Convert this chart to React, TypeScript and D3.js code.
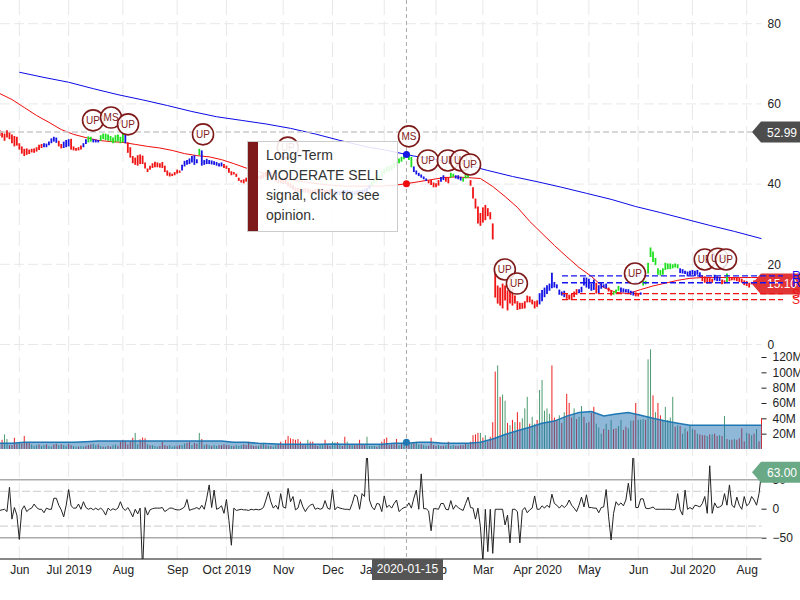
import React, { useEffect, useRef } from 'react'
import * as d3 from 'd3'

// price bars, one pair per trading day
const priceHigh = [
  53.5,53.2,52.6,53.4,53.0,52.4,52.0,51.8,50.2,49.4,
  48.8,48.9,48.6,48.8,48.9,49.2,49.8,50.0,50.2,50.1,
  50.6,51.4,51.8,51.6,50.8,50.0,50.6,51.0,51.2,51.3,
  49.4,49.0,49.2,49.6,50.2,51.2,51.9,51.8,51.2,51.1,
  51.0,52.2,52.6,52.6,52.4,52.0,51.6,52.2,52.4,51.8,
  52.6,52.4,50.4,49.2,47.0,46.6,47.2,47.4,47.1,45.4,
  43.9,44.6,45.2,45.6,45.4,45.2,45.5,44.6,43.4,42.9,
  42.6,43.0,43.6,43.4,44.8,45.8,46.0,46.4,47.0,47.2,
  46.2,48.8,48.4,46.0,46.3,46.0,45.9,45.7,45.5,45.2,
  45.4,45.0,44.6,44.0,43.2,43.0,42.6,41.6,41.0,41.2,
  41.6,41.4,41.2,41.4,41.8,42.0,42.2,42.6,43.0,43.2,
  43.0,42.4,41.8,41.4,41.2,41.0,41.2,40.6,40.2,39.8,
  39.2,39.0,38.8,38.9,39.0,38.9,38.7,38.6,38.8,38.7,
  38.8,38.6,38.5,38.7,38.8,38.6,38.4,38.3,38.2,38.4,
  38.5,38.6,38.4,38.3,38.2,38.4,38.5,38.6,38.8,39.0,
  39.8,40.6,41.4,41.8,42.2,43.2,43.8,44.4,44.6,44.8,
  45.2,45.8,46.4,46.8,47.6,48.2,47.8,46.8,44.4,43.4,
  42.8,42.4,41.9,41.4,41.0,41.0,40.4,40.2,41.0,41.8,
  42.2,41.8,41.6,42.8,42.6,42.2,42.2,41.8,41.6,42.4,
  42.6,41.0,39.2,36.4,34.4,32.8,34.2,34.8,34.0,33.0,
  30.2,17.7,14.7,14.2,15.2,14.7,13.5,15.2,14.0,12.2,
  10.8,10.4,10.4,10.8,12.2,12.0,11.2,10.8,11.0,12.8,
  13.6,14.2,14.8,15.2,17.9,15.6,15.0,13.7,13.2,13.4,
  12.8,12.4,12.6,13.2,13.8,13.8,14.4,16.7,16.7,16.4,
  15.2,16.2,15.4,14.8,15.4,15.0,15.2,14.2,13.4,13.2,
  13.7,14.6,14.2,14.0,13.8,13.8,13.4,13.2,13.0,12.6,
  13.0,15.9,15.9,20.4,24.2,23.2,21.6,19.0,18.6,19.0,
  20.4,20.2,20.2,20.0,20.2,20.0,19.0,18.8,18.4,18.2,
  18.4,18.6,18.4,18.6,18.0,17.2,17.0,16.6,16.6,16.4,
  17.4,17.0,16.8,16.2,16.0,17.7,16.6,16.8,16.8,16.6,
  16.6,16.4,16.0,15.8,15.4,15.6,16.0,15.9,15.6,15.4,
]
const priceLow = [
  52.0,51.6,50.8,51.6,51.2,50.2,49.4,49.6,48.6,47.6,
  47.0,47.3,47.5,47.9,47.8,48.1,48.5,49.0,49.2,49.2,
  49.7,50.2,50.6,50.3,49.4,48.9,49.0,49.2,49.4,48.6,
  48.4,48.3,48.4,48.6,49.2,50.0,50.4,50.6,50.4,50.4,
  50.4,50.8,51.2,51.0,50.8,50.6,50.2,50.4,50.6,50.2,
  50.4,50.2,47.8,46.6,45.2,44.8,44.6,45.0,45.0,43.9,
  43.0,43.6,44.0,44.2,44.2,44.1,44.0,43.0,42.1,41.9,
  42.0,42.2,42.6,42.8,43.4,44.4,44.8,45.0,45.4,44.8,
  45.2,47.2,44.6,44.8,45.0,45.0,44.9,44.8,44.6,44.4,
  44.4,44.0,43.8,42.8,42.2,42.4,41.8,40.8,40.4,40.2,
  40.6,40.4,40.4,40.6,40.9,41.2,41.2,41.4,41.8,42.0,
  41.8,41.2,40.6,40.2,40.2,40.0,40.0,39.4,39.0,38.6,
  38.1,38.0,37.8,37.9,37.9,37.8,37.6,37.6,37.7,37.7,
  37.8,37.6,37.5,37.6,37.7,37.5,37.4,37.3,37.2,37.4,
  37.4,37.5,37.4,37.3,37.3,37.4,37.6,37.7,37.8,38.0,
  38.8,39.4,40.2,40.6,41.0,41.8,42.6,43.0,43.2,43.4,
  44.0,44.6,45.2,45.6,46.2,46.8,46.0,44.2,43.0,42.4,
  42.0,41.6,41.2,40.8,40.2,39.8,39.2,39.2,39.6,40.6,
  41.0,40.6,40.2,41.6,41.8,41.4,41.2,40.9,40.6,41.4,
  41.6,39.6,36.4,33.9,30.2,29.6,30.4,31.0,32.0,31.2,
  26.2,11.7,10.2,9.7,9.0,11.0,8.5,10.2,9.7,10.2,
  8.6,8.8,8.9,9.0,10.5,10.5,10.0,9.0,9.4,10.0,
  10.8,11.8,12.6,13.4,14.0,14.2,14.0,12.4,12.2,11.8,
  11.4,11.2,11.2,11.8,12.4,12.8,13.0,14.7,14.2,13.9,
  13.4,13.6,12.7,12.8,13.9,14.2,14.0,13.2,12.2,12.4,
  12.7,13.4,13.0,13.0,13.0,12.6,12.4,12.2,12.0,12.0,
  12.4,14.7,15.0,17.7,21.8,20.6,19.8,17.4,17.2,17.4,
  18.6,18.8,18.8,19.0,19.2,19.0,17.8,17.7,17.6,17.0,
  17.2,17.4,17.0,17.4,16.8,15.8,15.4,15.2,15.2,15.4,
  16.0,15.8,15.8,15.0,15.2,15.4,15.8,16.0,16.0,15.8,
  15.6,15.4,14.8,14.6,14.2,15.0,15.2,15.2,15.0,15.1,
]
// colour of the price bars: each colour runs up to and including the bar in signalEnds
const signalEnds = [17,23,25,28,33,35,37,40,50,51,73,80,81,90,135,150,167,173,178,180,182,184,187,190,218,229,234,241,242,246,248,251,257,259,260,275,284,289,292,294,295,309]
const signalColors = ['r','b','r','b','r','b','g','b','g','b','r','b','g','b','r','b','g','b','r','b','r','g','b','g','r','b','r','b','r','b','r','g','b','r','b','g','b','r','b','r','g','r']

// moving averages, read every few bars
const fastBars = d3.range(0, 305, 5).concat([305, 309])
const fastMA = [
  62.6,61.1,59.1,57.1,55.4,53.6,52.4,51.6,50.9,50.6,50.4,49.9,49.4,49.0,48.4,47.6,47.1,46.8,46.1,45.1,
  44.0,43.1,42.1,41.4,40.9,40.4,40.0,39.7,39.5,39.5,39.5,39.5,39.7,40.1,40.6,41.1,41.6,41.8,41.6,41.4,
  39.4,36.9,34.2,30.7,27.7,24.7,21.9,19.2,17.0,14.2,13.0,12.7,13.7,14.6,15.3,16.0,16.5,16.7,16.7,16.7,16.7,16.7,16.7,
]
const slowBars = [8,18,28,38,48,58,68,78,88,98,108,118,128,138,148,158,168,178,188,198,208,218,228,238,248,258,268,278,288,298,309]
const slowMA = [67.9,66.6,65.4,63.8,62.3,61.0,59.6,58.1,56.8,55.9,55.0,53.9,52.5,50.9,49.4,48.3,47.0,46.0,45.0,43.4,41.9,40.6,39.2,37.7,36.2,34.4,32.9,31.3,29.7,28.2,26.4]

// volume in millions
const volume = [
  6,12,19,13,5,5,14.6,7,8,7,
  17,8,8,6,4,5,6,4,5,6,
  4,3,6,7,5,6,5,4,7,5,
  4,3,3,4,3,4,5,6,7,5,
  6,4,3,3,4,3,5,6,4,9.5,
  12,10,6,10,14.6,21,6,12.5,15,14,
  6,5,5,4,3,4,9.5,5,4,5,
  3,4,4,5,5,7,8,9,5,8,
  7,21,13,5,6,5,4,5,4,5,
  5,6,5,5,4,4,5,4,5,6,
  5,9.5,5,4,4,4,6,8,5,4,
  4,3,5,6,9.5,6,12,17,14,13,
  12,13,9.5,6,5,12,9.5,9.5,5,4,
  5,5,12,5,4,9.5,8.5,9,5,4,
  16,9.5,6,5,5,6,12,6,5,16,
  4,4,4,3,5,9.5,13,15,5,6,
  6,13,5,8,9,8,9,7,8,9.5,
  6,6,5,4,4,14.6,5,4,5,4,
  4,5,9.5,4,5,4,4,5,5,7,
  6,9.5,18,19,21,21,15,18,10,16,
  35,101,109,68,71,63,34,31,38,35,
  48,35,40,53,68,33,42,33,38,77,
  90,50,53,46,109,41,38,44,34,48,
  72,60,41,53,39,42,56,42,34,35,
  47,55,33,28,20,26,33,25,38,26,
  27,30,38,25,29,27,37,37,60,38,
  38,39,38,117,130,70,48,60,44,38,
  55,38,41,68,29,31,30,20,27,23,
  30,26,25,20,19,18,18,17,19,19,
  20,17,18,17,43,13,12,12,13,12,
  14,27,10,21,20,18,20,26,10,40,
]
// bars of the volume panel that are green, the others are red
const volumeUpBars = [2,3,8,13,14,15,17,18,20,21,24,26,27,30,31,33,34,38,39,41,43,46,47,55,56,60,62,63,64,69,70,71,74,75,78,81,83,85,87,88,94,96,97,98,105,107,109,111,112,125,130,131,135,136,138,141,143,149,150,151,152,154,162,164,167,169,170,172,173,178,181,183,184,190,195,197,202,204,205,207,209,212,213,214,216,217,219,220,221,222,223,227,229,233,235,236,238,242,243,244,246,248,251,252,255,256,259,260,261,263,264,266,269,270,271,272,273,275,277,278,280,281,283,287,289,292,294,296,298,303,305,307]
const volumeAvgBars = d3.range(0, 305, 5).concat([305, 309])
const volumeAvg = [
  7.4,7.4,8.7,8.7,8.7,8.7,8.7,9.5,10.4,10.4,10.4,10.4,10.4,10.4,10.4,10.4,10.4,10.4,10.4,8.7,
  8.7,7.4,7.0,6.1,6.1,6.1,6.1,6.4,6.1,6.1,6.1,6.1,7.4,7.4,8.7,8.7,7.4,7.4,7.4,8.7,
  13,19,23.8,28.4,33.7,36.4,42.9,47.6,49,43,45.5,47.6,44,40,36.4,33.7,31,
  31,31,31,31,31,31,
]

// oscillator in the bottom panel
const oscillator = [
  -3,-2,-1,-5,37,-18,2,-11,-53,-2,
  5,-5,-1,1,8,2,-1,-1,-7,1,
  -1,-1,18,18,6,-2,-14,6,33,5,
  1,1,8,-1,12,2,-1,1,-2,1,
  -2,1,-3,-11,1,-3,0,-2,1,12,
  1,-3,2,-5,-14,-1,-9,1,-105,2,
  -11,-2,0,1,1,1,2,-5,-2,1,
  1,-1,-2,-2,0,3,16,-3,-1,0,
  2,-1,6,-1,18,41,2,32,-1,1,
  5,-8,16,-20,-63,1,-3,-2,-1,-2,
  -2,-3,-1,-2,-1,-2,-1,2,15,29,
  12,1,6,-1,26,3,1,35,12,21,
  -2,1,16,3,-5,2,6,8,-1,1,
  -1,1,14,1,-1,33,-2,3,1,0,
  -1,-1,-2,9,24,21,-1,26,21,105,
  15,3,-2,9,8,-5,22,2,6,1,
  9,15,-5,-1,2,3,10,1,18,32,
  -1,60,0,0,-4,-38,0,0,-1,9,
  9,-1,-2,14,-1,6,2,-1,-3,9,
  20,2,1,-18,1,-31,-92,-1,-74,-1,
  -77,-1,-1,-1,-1,-28,-11,-59,-1,-1,
  -5,-59,-3,2,-7,-2,1,22,-1,-1,
  5,1,6,2,25,9,6,1,6,2,
  6,15,6,1,-5,6,20,3,24,2,
  2,1,1,-7,2,3,33,-14,-54,-8,
  12,6,10,5,15,44,14,105,2,2,
  17,17,1,0,1,3,-1,-1,-1,-1,
  -1,-1,-1,-2,-1,26,-2,-11,32,-1,
  2,-1,6,5,3,9,21,-8,74,-8,
  10,2,3,6,26,6,41,6,2,20,
  6,-1,21,5,9,21,15,6,26,63,
]

// signal flags
const flagBars = [37.9,45.2,52.1,82.5,116.9,166,173.7,181.8,187.1,190.8,204.9,209.8,257.7,286,291.3,294.6]
const flagPrices = [55.9,56.6,54.9,52.4,49.1,51.9,45.9,45.9,45.9,44.9,18.7,15.2,17.7,21.2,21.4,21.2]
const flagLabels = ['UP','MS','UP','UP','UP','MS','UP','UP','UP','UP','UP','UP','UP','UP','UP','UP']

const monthBars = [8,28,50,72,92,115,135,156,177,196,218,239,259,281,303]
const monthLabels = ['Jun','Jul 2019','Aug','Sep','Oct 2019','Nov','Dec','Jan 2020','Feb','Mar','Apr 2020','May','Jun','Jul 2020','Aug']

const resistance = [17.1, 15.4]
const support = [12.7, 11.2]
const crossBar = 165
const crossLabel = '2020-01-15'
const crossPrice = 52.99
const lastPrice = 15.1
const lastOscillator = 63
const opinion = ['Long-Term', 'MODERATE SELL', 'signal, click to see', 'opinion.']

const FONT = '"Liberation Sans", Arial, sans-serif'
const DARK_RED = '#7f1a1a'
const right = 761.5

export default function App() {
  const container = useRef<SVGSVGElement>(null)

  useEffect(() => {
    if (!container.current) return
    const svg = d3.select(container.current)
    svg.selectAll('*').remove()
    svg.style('font-family', FONT)

    const x = d3.scaleLinear().domain([0, 309]).range([-0.4, right])
    const y = d3.scaleLinear().domain([0, 80]).range([344.5, 23.7])
    const yVol = d3.scaleLinear().domain([0, 120]).range([449, 357])
    const yOsc = d3.scaleLinear().domain([-50, 50]).range([537.7, 479.7])

    const clip = svg.append('defs').append('clipPath').attr('id', 'osc-clip')
    clip.append('rect').attr('x', 0).attr('y', 458).attr('width', right).attr('height', 101)

    // grid
    const grid = svg.append('g')
    grid.selectAll('line.v').data(monthBars).join('line')
      .attr('x1', d => x(d)).attr('x2', d => x(d)).attr('y1', 0).attr('y2', 559)
      .attr('stroke', '#e8e8e8').attr('stroke-dasharray', '15,6')
    grid.selectAll('line.h').data(y.ticks(4)).join('line')
      .attr('x1', 0).attr('x2', right).attr('y1', d => y(d)).attr('y2', d => y(d))
      .attr('stroke', '#e8e8e8').attr('stroke-dasharray', '10,4')

    // axes
    const styleAxis = (g: any) => {
      g.select('.domain').remove()
      g.selectAll('text').attr('font-size', 12).attr('font-family', FONT).attr('fill', '#222')
      g.selectAll('line').attr('stroke', '#222')
    }
    svg.append('g').attr('transform', `translate(${right},0)`)
      .call(d3.axisRight(y).tickValues([0, 20, 40, 60, 80]).tickSize(0).tickPadding(6))
      .call(styleAxis)
    svg.append('g').attr('transform', `translate(${right},0)`)
      .call(d3.axisRight(yVol).tickValues([20, 40, 60, 80, 100, 120]).tickFormat(d => `${d}M`).tickSize(5).tickPadding(6))
      .call(styleAxis)
    svg.append('g').attr('transform', `translate(${right},0)`)
      .call(d3.axisRight(yOsc).tickValues([-50, 0, 50]).tickSize(5).tickPadding(6))
      .call(styleAxis)
    const xAxis = svg.append('g').attr('transform', 'translate(0,559)')
      .call(d3.axisBottom(x).tickValues(monthBars).tickFormat((_, i) => monthLabels[i]).tickSize(0).tickPadding(6))
      .call(styleAxis)
    xAxis.selectAll('text').attr('fill', '#222')
    svg.append('line').attr('x1', 0).attr('x2', right).attr('y1', 559).attr('y2', 559).attr('stroke', '#111')

    // volume bars and average
    const upSet = new Set(volumeUpBars)
    svg.append('g').selectAll('line').data(volume).join('line')
      .attr('x1', (_, i) => x(i)).attr('x2', (_, i) => x(i))
      .attr('y1', yVol(0)).attr('y2', d => yVol(d))
      .attr('stroke', (_, i) => upSet.has(i) ? '#4c9a70' : '#ee2020')
      .attr('stroke-width', 1)
    const avgPoints = volumeAvg.map((v, i) => [volumeAvgBars[i], v])
    svg.append('path').datum(avgPoints)
      .attr('d', d3.area<number[]>().x(d => x(d[0])).y0(yVol(0)).y1(d => yVol(d[1])) as any)
      .attr('fill', '#1f6fb0').attr('fill-opacity', 0.5)
    svg.append('path').datum(avgPoints)
      .attr('d', d3.line<number[]>().x(d => x(d[0])).y(d => yVol(d[1])) as any)
      .attr('fill', 'none').attr('stroke', '#1f77b4').attr('stroke-width', 1.5)

    // oscillator panel
    const refs = svg.append('g')
    refs.selectAll('line.s').data([50, -50]).join('line')
      .attr('x1', 0).attr('x2', right).attr('y1', d => yOsc(d)).attr('y2', d => yOsc(d))
      .attr('stroke', '#aaa').attr('stroke-width', 1.5)
    refs.selectAll('line.d').data([30, -30]).join('line')
      .attr('x1', 0).attr('x2', right).attr('y1', d => yOsc(d)).attr('y2', d => yOsc(d))
      .attr('stroke', '#ccc').attr('stroke-dasharray', '8,3')
    svg.append('path').datum(oscillator)
      .attr('clip-path', 'url(#osc-clip)')
      .attr('d', d3.line<number>().x((_, i) => x(i)).y(d => yOsc(d)) as any)
      .attr('fill', 'none').attr('stroke', '#222').attr('stroke-width', 1)

    // moving averages
    svg.append('path').datum(fastMA)
      .attr('d', d3.line<number>().x((_, i) => x(fastBars[i])).y(d => y(d)) as any)
      .attr('fill', 'none').attr('stroke', '#f00c0c').attr('stroke-width', 1)
    svg.append('path').datum(slowMA)
      .attr('d', d3.line<number>().x((_, i) => x(slowBars[i])).y(d => y(d)) as any)
      .attr('fill', 'none').attr('stroke', '#0a0ae8').attr('stroke-width', 1)

    // price bars
    const colorOf = (i: number) => {
      const c = signalColors[d3.bisectLeft(signalEnds, i)]
      return c === 'g' ? '#1fe01f' : c === 'b' ? '#1414e6' : '#f01414'
    }
    svg.append('g').selectAll('line').data(priceHigh).join('line')
      .attr('x1', (_, i) => x(i)).attr('x2', (_, i) => x(i))
      .attr('y1', d => y(d)).attr('y2', (_, i) => y(priceLow[i]))
      .attr('stroke', (_, i) => colorOf(i)).attr('stroke-width', 1.8)

    // last price tag goes under the support and resistance lines
    const tag = (price: number, scale: any, fill: string, label: string) => {
      const c = scale(price)
      const tip = 752
      const g = svg.append('g')
      g.append('path')
        .attr('d', `M${tip},${c}L${tip + 9},${c - 10.5}H800V${c + 10.5}H${tip + 9}Z`)
        .attr('fill', fill)
      g.append('text').attr('x', tip + 15).attr('y', c + 4.5)
        .attr('font-size', 12).attr('fill', '#fff').text(label)
    }
    tag(lastPrice, y, '#e23535', lastPrice.toFixed(2))
    tag(lastOscillator, yOsc, '#6aa985', lastOscillator.toFixed(2))

    const levels = svg.append('g').attr('stroke-width', 1.3)
    const drawLevels = (vals: number[], color: string, letter: string) => {
      levels.selectAll(`line.${letter}`).data(vals).join('line').attr('class', letter)
        .attr('x1', 562).attr('x2', 783).attr('y1', d => y(d)).attr('y2', d => y(d))
        .attr('stroke', color).attr('stroke-dasharray', '6,3')
      levels.selectAll(`text.${letter}`).data(vals).join('text').attr('class', letter)
        .attr('x', 792).attr('y', d => y(d) + 4).attr('font-size', 12).attr('fill', color).text(letter)
    }
    drawLevels(resistance, '#1414f0', 'R')
    drawLevels(support, '#f01414', 'S')

    // crosshair
    svg.append('line').attr('x1', x(crossBar)).attr('x2', x(crossBar)).attr('y1', 0).attr('y2', 559)
      .attr('stroke', '#aaa').attr('stroke-dasharray', '4,3')
    svg.append('line').attr('x1', 0).attr('x2', 752).attr('y1', y(crossPrice)).attr('y2', y(crossPrice))
      .attr('stroke', '#ccc').attr('stroke-width', 1.5).attr('stroke-dasharray', '6,3')
    tag(crossPrice, y, '#4d4d4d', crossPrice.toFixed(2))
    const crossFast = fastMA[33], crossSlow = 47.4
    svg.append('circle').attr('cx', x(crossBar)).attr('cy', y(crossFast)).attr('r', 3.5).attr('fill', '#f00c0c')
    svg.append('circle').attr('cx', x(crossBar)).attr('cy', y(crossSlow)).attr('r', 3.5).attr('fill', '#1414e6')
    svg.append('circle').attr('cx', x(crossBar)).attr('cy', yVol(8.7)).attr('r', 3.5).attr('fill', '#1f77b4')
    svg.append('rect').attr('x', 372).attr('y', 559).attr('width', 71).attr('height', 21).attr('fill', '#555')
    svg.append('text').attr('x', 407.5).attr('y', 573).attr('text-anchor', 'middle')
      .attr('font-size', 12).attr('fill', '#fff').text(crossLabel)

    // flags
    const flags = svg.append('g').selectAll('g').data(flagBars).join('g')
      .attr('transform', (d, i) => `translate(${x(d)},${y(flagPrices[i])})`)
    flags.append('circle').attr('r', 10.5).attr('fill', '#fff').attr('fill-opacity', 0.85)
      .attr('stroke', DARK_RED).attr('stroke-width', 1.6)
    flags.append('text').attr('text-anchor', 'middle').attr('y', 3.7).attr('font-size', 10)
      .attr('fill', DARK_RED).text((_, i) => flagLabels[i])

    // opinion box
    const box = svg.append('g')
    box.append('rect').attr('x', 247.5).attr('y', 141.5).attr('width', 150).attr('height', 90)
      .attr('fill', '#fff').attr('fill-opacity', 0.88).attr('stroke', '#ccc')
    box.append('rect').attr('x', 248).attr('y', 142).attr('width', 10).attr('height', 89).attr('fill', DARK_RED)
    box.selectAll('text').data(opinion).join('text')
      .attr('x', 266).attr('y', (_, i) => 160 + i * 20).attr('font-size', 14).attr('fill', '#333')
      .text(d => d)
  }, [])

  return <svg ref={container} width={800} height={600} style={{ position: 'absolute', left: 0, top: 0, display: 'block' }} />
}
